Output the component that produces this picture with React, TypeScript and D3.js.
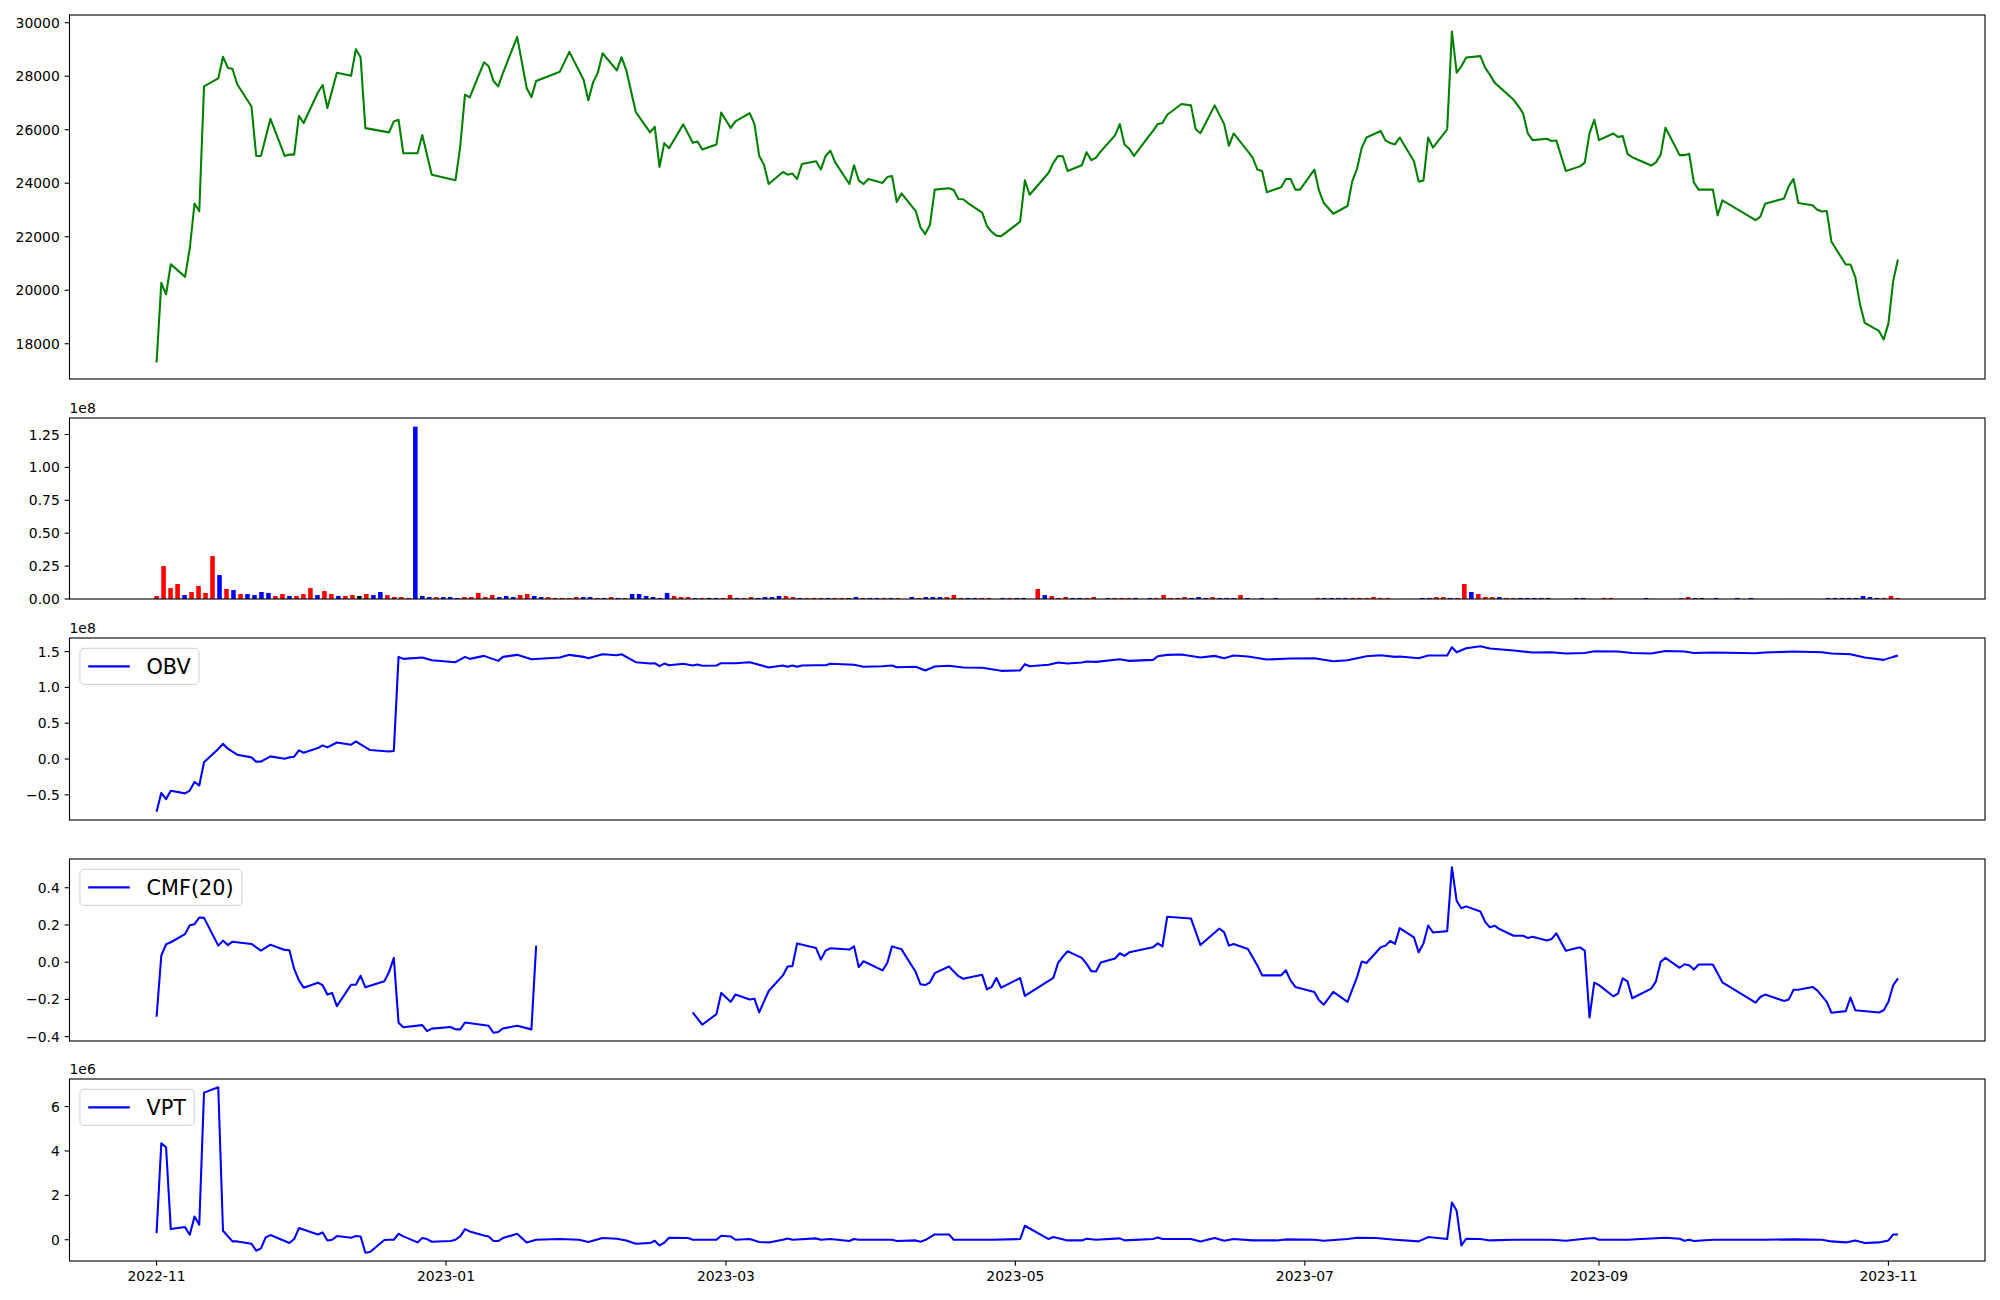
import React from "react";
import * as d3 from "d3";

// ---------------- data ----------------
const START = Date.UTC(2022, 10, 1); // 2022-11-01, day 0
const DAY = 86400000;

// [day offset from 2022-11-01, close price]
const price: [number, number][] = [
  [0,17300],[1,20275],[2,19850],[3,20970],[6,20500],[7,21560],[8,23240],[9,22950],[10,27620],[13,27920],
  [14,28730],[15,28320],[16,28270],[17,27700],[20,26870],[21,25020],[22,25020],[24,26410],[27,25020],[28,25070],
  [29,25070],[30,26520],[31,26250],[34,27390],[35,27670],[36,26810],[38,28130],[41,28020],[42,29010],[43,28710],
  [44,26060],[49,25900],[50,26310],[51,26370],[52,25120],[55,25120],[56,25800],[58,24320],[63,24110],[64,25380],
  [65,27310],[66,27210],[69,28520],[70,28370],[71,27820],[72,27620],[73,28120],[76,29470],[78,27560],[79,27220],
  [80,27820],[85,28170],[87,28910],[90,27870],[91,27100],[92,27770],[93,28130],[94,28860],[97,28220],[98,28710],
  [99,28220],[101,26660],[104,25900],[105,26110],[106,24610],[107,25500],[108,25310],[111,26200],[113,25510],[114,25560],
  [115,25260],[118,25450],[119,26640],[121,26065],[122,26310],[125,26620],[126,26220],[127,25020],[128,24700],[129,23970],
  [132,24420],[133,24320],[134,24360],[135,24160],[136,24720],[139,24820],[140,24510],[141,25020],[142,25220],[143,24790],
  [146,23970],[147,24670],[148,24100],[149,23970],[150,24160],[153,24010],[154,24230],[155,24270],[156,23300],[157,23620],
  [160,22960],[161,22350],[162,22100],[163,22450],[164,23760],[167,23810],[168,23750],[169,23410],[170,23400],[171,23260],
  [174,22900],[175,22400],[176,22180],[177,22040],[178,22020],[182,22560],[183,24110],[184,23570],[188,24390],[189,24760],
  [190,25020],[191,25010],[192,24460],[195,24670],[196,25160],[197,24860],[198,24960],[199,25190],[202,25790],[203,26210],
  [204,25450],[205,25290],[206,25020],[209,25730],[210,25960],[211,26210],[212,26250],[213,26560],[216,26960],[218,26910],
  [219,26020],[220,25870],[223,26910],[225,26210],[226,25400],[227,25860],[230,25190],[231,24960],[232,24510],[233,24460],
  [234,23660],[237,23850],[238,24160],[239,24160],[240,23760],[241,23760],[244,24510],[245,23720],[246,23260],[248,22860],
  [251,23150],[252,24080],[253,24540],[254,25330],[255,25710],[258,25950],[259,25600],[260,25500],[261,25450],[262,25710],
  [265,24820],[266,24060],[267,24100],[268,25710],[269,25330],[272,26010],[273,29670],[274,28130],[275,28370],[276,28700],
  [279,28750],[280,28320],[281,28060],[282,27760],[286,27120],[287,26880],[288,26610],[289,25860],[290,25610],[293,25660],
  [294,25580],[295,25600],[297,24460],[300,24630],[301,24770],[302,25870],[303,26370],[304,25610],[307,25860],[308,25730],
  [309,25760],[310,25100],[311,24970],[315,24660],[316,24780],[317,25070],[318,26070],[321,25050],[322,25050],[323,25100],
  [324,24020],[325,23760],[328,23760],[329,22800],[330,23360],[337,22620],[338,22750],[339,23230],[343,23430],[344,23890],
  [345,24160],[346,23260],[349,23180],[350,23010],[351,22940],[352,22960],[353,21810],[356,20960],[357,20960],[358,20500],
  [359,19480],[360,18780],[363,18480],[364,18160],[365,18760],[366,20350],[367,21150],
];

// volume per trading session (units of 1e8), drawn by session index
const volume: number[] = [
  0.023,0.25,0.083,0.114,0.03,0.053,0.099,0.046,0.326,0.182,
  0.076,0.068,0.038,0.038,0.03,0.053,0.046,0.023,0.038,0.023,
  0.023,0.038,0.083,0.03,0.061,0.038,0.023,0.023,0.03,0.023,
  0.038,0.03,0.053,0.03,0.015,0.015,0.008,1.31,0.023,0.015,
  0.015,0.015,0.015,0.008,0.015,0.015,0.046,0.015,0.03,0.015,
  0.023,0.015,0.03,0.038,0.023,0.015,0.015,0.008,0.008,0.008,
  0.015,0.015,0.015,0.008,0.008,0.015,0.008,0.008,0.038,0.038,
  0.023,0.015,0.008,0.046,0.023,0.015,0.015,0.008,0.008,0.008,
  0.008,0.008,0.03,0.008,0.008,0.015,0.008,0.015,0.015,0.023,
  0.023,0.015,0.008,0.008,0.008,0.008,0.008,0.008,0.008,0.008,
  0.015,0.008,0.008,0.008,0.008,0.008,0.008,0.001,0.015,0.008,
  0.015,0.015,0.015,0.015,0.03,0.008,0.008,0.008,0.008,0.008,
  0.001,0.008,0.008,0.008,0.008,0.001,0.076,0.03,0.023,0.008,
  0.015,0.008,0.008,0.008,0.015,0.001,0.008,0.008,0.008,0.008,
  0.008,0.001,0.008,0.008,0.03,0.008,0.008,0.015,0.008,0.015,
  0.008,0.015,0.008,0.008,0.008,0.03,0.008,0.001,0.008,0.001,
  0.008,0.001,0.001,0.001,0.001,0.001,0.008,0.008,0.008,0.008,
  0.008,0.008,0.008,0.008,0.015,0.008,0.008,0.001,0.001,0.001,
  0.001,0.008,0.008,0.015,0.015,0.008,0.008,0.114,0.053,0.038,
  0.015,0.015,0.015,0.008,0.008,0.008,0.008,0.008,0.008,0.008,
  0.001,0.001,0.001,0.008,0.008,0.001,0.001,0.008,0.008,0.001,
  0.001,0.001,0.001,0.008,0.001,0.001,0.001,0.001,0.008,0.015,
  0.008,0.008,0.001,0.008,0.001,0.001,0.008,0.001,0.008,0.001,
  0.001,0.001,0.001,0.001,0.001,0.001,0.001,0.001,0.001,0.008,
  0.008,0.008,0.008,0.008,0.023,0.015,0.008,0.008,0.023,0.008,
];
// r = red, b = blue, k = black
const volumeColors: string =
  "rrrrbrrrrb" + "rbrbbbbrrb" + "rrrbrrbrrk" + "rbbrrrrbbb" + "rbbbrrrrrb" +
  "bbrrbbrrrr" + "rbbrbrbrbb" + "bbbbrrrbrk" + "brrbrrbbbb" + "rrbrrrbrrk" +
  "brbbrbrrbr" + "bbbrrrbbrr" + "rbrbbrrbrr" + "rbbrrrbrrr" + "brbrrrrrbb" +
  "brbbbrbrbr" + "brrrrrrbbb" + "brrrrrrrrr" + "rbbrrbrrbr" + "rrbrrbbbbk" +
  "rrrbbrrrrr" + "rrrbrrrrrr" + "bkrbrrbrbr" + "rrrrrrrrrb" + "bbbbbbbrrr";

// OBV (units of 1e8)
const obv: [number, number][] = [
  [0,-0.736],[1,-0.472],[2,-0.56],[3,-0.444],[6,-0.48],[7,-0.44],[8,-0.32],[9,-0.37],[10,-0.046],[13,0.139],
  [14,0.213],[15,0.144],[17,0.06],[20,0.023],[21,-0.037],[22,-0.037],[24,0.037],[27,0.005],[28,0.023],[29,0.032],
  [30,0.12],[31,0.088],[34,0.153],[35,0.19],[36,0.162],[38,0.231],[41,0.199],[42,0.245],[43,0.204],[45,0.125],
  [49,0.106],[50,0.111],[51,1.426],[52,1.398],[56,1.417],[58,1.38],[63,1.352],[65,1.426],[66,1.398],[69,1.44],
  [72,1.37],[73,1.426],[76,1.454],[79,1.394],[85,1.417],[87,1.454],[90,1.426],[91,1.407],[94,1.463],[97,1.449],
  [98,1.463],[101,1.352],[104,1.333],[105,1.338],[106,1.296],[107,1.333],[108,1.31],[111,1.329],[113,1.306],[114,1.319],
  [115,1.301],[118,1.306],[119,1.338],[122,1.338],[125,1.352],[126,1.333],[129,1.278],[132,1.306],[133,1.287],[134,1.306],
  [135,1.287],[136,1.306],[139,1.31],[141,1.31],[142,1.329],[147,1.315],[149,1.287],[153,1.296],[155,1.306],[156,1.282],
  [160,1.287],[162,1.236],[164,1.292],[167,1.301],[170,1.278],[174,1.273],[178,1.231],[182,1.236],[183,1.324],[184,1.296],
  [188,1.315],[190,1.347],[192,1.333],[195,1.347],[196,1.361],[198,1.356],[203,1.394],[205,1.37],[210,1.384],[211,1.435],
  [213,1.454],[216,1.458],[220,1.417],[223,1.44],[225,1.407],[227,1.444],[230,1.43],[234,1.389],[239,1.403],[244,1.407],
  [248,1.366],[251,1.38],[255,1.435],[258,1.449],[261,1.426],[262,1.43],[266,1.407],[268,1.444],[272,1.444],[273,1.56],
  [274,1.49],[276,1.546],[279,1.574],[281,1.542],[286,1.514],[290,1.486],[294,1.49],[297,1.472],[301,1.481],[303,1.505],
  [308,1.5],[311,1.481],[315,1.472],[318,1.509],[322,1.5],[324,1.481],[328,1.486],[337,1.477],[339,1.486],[345,1.5],
  [351,1.49],[353,1.472],[357,1.463],[360,1.417],[364,1.384],[366,1.426],[367,1.444],
];

// CMF(20); null = no value (gap)
const cmf: [number, number | null][] = [
  [0,-0.293],[1,0.036],[2,0.096],[3,0.107],[6,0.151],[7,0.199],[8,0.204],[9,0.24],[10,0.238],[13,0.089],
  [14,0.116],[15,0.092],[16,0.11],[20,0.098],[22,0.062],[24,0.094],[27,0.066],[28,0.064],[29,-0.036],[30,-0.098],
  [31,-0.137],[34,-0.11],[35,-0.124],[36,-0.174],[37,-0.165],[38,-0.236],[41,-0.121],[42,-0.121],[43,-0.073],[44,-0.135],
  [48,-0.103],[49,-0.053],[50,0.023],[51,-0.325],[52,-0.35],[56,-0.338],[57,-0.37],[58,-0.357],[62,-0.348],[63,-0.361],
  [64,-0.361],[65,-0.324],[70,-0.342],[71,-0.379],[72,-0.375],[73,-0.356],[76,-0.342],[79,-0.361],[80,0.089],[81,null],
  [113,-0.27],[115,-0.336],[118,-0.279],[119,-0.165],[121,-0.213],[122,-0.174],[125,-0.2],[126,-0.196],[127,-0.27],[129,-0.155],
  [132,-0.071],[133,-0.023],[134,-0.021],[135,0.101],[139,0.076],[140,0.014],[141,0.062],[142,0.075],[146,0.068],[147,0.085],
  [148,-0.027],[149,0.005],[153,-0.044],[154,-0.004],[155,0.085],[157,0.069],[160,-0.053],[161,-0.119],[162,-0.123],[163,-0.108],
  [164,-0.059],[167,-0.023],[169,-0.075],[170,-0.089],[174,-0.068],[175,-0.146],[176,-0.133],[177,-0.085],[178,-0.137],[182,-0.085],
  [183,-0.181],[189,-0.084],[190,-0.004],[191,0.03],[192,0.059],[195,0.023],[196,-0.009],[197,-0.048],[198,-0.05],[199,-0.002],
  [202,0.02],[203,0.048],[204,0.034],[205,0.053],[210,0.08],[211,0.101],[212,0.085],[213,0.244],[218,0.235],[220,0.092],
  [224,0.181],[225,0.16],[226,0.089],[227,0.098],[230,0.071],[232,-0.018],[233,-0.071],[237,-0.071],[238,-0.043],[239,-0.098],
  [240,-0.133],[244,-0.16],[245,-0.204],[246,-0.228],[248,-0.16],[251,-0.213],[253,-0.08],[254,0.004],[255,-0.004],[258,0.08],
  [259,0.089],[260,0.114],[261,0.098],[262,0.183],[265,0.133],[266,0.053],[267,0.101],[268,0.197],[269,0.16],[272,0.167],
  [273,0.51],[274,0.329],[275,0.29],[276,0.3],[279,0.272],[280,0.217],[281,0.187],[282,0.196],[283,0.178],[286,0.142],
  [288,0.142],[289,0.13],[290,0.137],[293,0.116],[294,0.124],[295,0.155],[297,0.062],[300,0.08],[301,0.062],[302,-0.297],
  [303,-0.11],[304,-0.123],[307,-0.183],[308,-0.169],[309,-0.087],[310,-0.103],[311,-0.194],[315,-0.142],[316,-0.103],[317,0.002],
  [318,0.023],[321,-0.03],[322,-0.011],[323,-0.016],[324,-0.039],[325,-0.012],[328,-0.012],[330,-0.108],[337,-0.217],[338,-0.187],
  [339,-0.174],[343,-0.208],[344,-0.2],[345,-0.148],[346,-0.148],[349,-0.133],[350,-0.151],[352,-0.213],[353,-0.272],[356,-0.263],
  [357,-0.19],[358,-0.258],[363,-0.27],[364,-0.258],[365,-0.213],[366,-0.124],[367,-0.087],
];

// VPT (units of 1e6)
const vpt: [number, number][] = [
  [0,0.3],[1,4.35],[2,4.17],[3,0.48],[6,0.57],[7,0.225],[8,1.05],[9,0.675],[10,6.63],[13,6.87],
  [14,0.405],[16,-0.075],[17,-0.075],[20,-0.18],[21,-0.495],[22,-0.39],[23,0.105],[24,0.21],[28,-0.15],[29,0.03],
  [30,0.525],[34,0.24],[35,0.33],[36,-0.03],[37,0],[38,0.165],[41,0.09],[42,0.165],[43,0.15],[44,-0.585],
  [45,-0.555],[48,-0.015],[49,0],[50,0],[51,0.27],[52,0.15],[55,-0.12],[56,0.075],[57,0.03],[58,-0.09],
  [62,-0.06],[63,0],[64,0.15],[65,0.48],[66,0.375],[69,0.195],[70,0.15],[71,-0.06],[72,-0.06],[73,0.075],
  [76,0.27],[78,-0.12],[80,0],[85,0.03],[89,0],[91,-0.105],[94,0.075],[97,0.045],[99,-0.03],[101,-0.18],
  [104,-0.15],[105,-0.045],[106,-0.255],[107,-0.135],[108,0.09],[112,0.075],[113,0],[118,0],[119,0.18],[121,0.15],
  [122,0],[125,0.03],[127,-0.105],[129,-0.12],[132,0],[133,0.06],[134,0],[139,0.06],[140,0],[142,0.03],
  [146,-0.06],[147,0.03],[148,0],[155,0],[156,-0.06],[160,-0.03],[161,-0.09],[162,-0.015],[164,0.24],[167,0.24],
  [168,0],[176,0],[182,0.03],[183,0.63],[188,0.03],[189,0.12],[192,-0.03],[195,-0.03],[196,0.045],[198,0],
  [203,0.06],[204,-0.03],[210,0.03],[211,0.105],[212,0.03],[218,0.03],[220,-0.075],[223,0.075],[225,-0.045],[227,0.03],
  [231,-0.03],[236,-0.03],[238,0.015],[244,0],[246,-0.045],[251,0.03],[253,0.09],[257,0.075],[261,0],[266,-0.075],
  [268,0.12],[272,0.03],[273,1.68],[274,1.305],[275,-0.255],[276,0.045],[279,0.03],[281,-0.03],[286,0],[294,0],
  [297,-0.045],[301,0.045],[303,0.075],[304,0],[310,0],[318,0.09],[321,0.045],[322,-0.045],[323,0],[324,-0.06],
  [328,0],[339,0],[345,0.015],[351,0],[353,-0.075],[356,-0.12],[358,-0.03],[360,-0.15],[363,-0.12],[365,-0.03],
  [366,0.24],[367,0.24],
];

const priceTicks = [18000, 20000, 22000, 24000, 26000, 28000, 30000];
const volumeTicks = [0, 0.25, 0.5, 0.75, 1.0, 1.25];
const obvTicks = [-0.5, 0, 0.5, 1.0, 1.5];
const cmfTicks = [-0.4, -0.2, 0, 0.2, 0.4];
const vptTicks = [0, 2, 4, 6];
const dateTickLabels = ["2022-11", "2023-01", "2023-03", "2023-05", "2023-07", "2023-09", "2023-11"];

// ---------------- layout ----------------
const W = 2000, H = 1300;
const L = 69.5, R = 1985;
const FONT = "DejaVu Sans, sans-serif";
const TICK_FS = 13.9;
const LEG_FS = 20.8;
const TICK_LEN = 4.86;
const LW = 2.08;

const P = {
  price: [15, 379],
  vol: [418, 599],
  obv: [638, 820],
  cmf: [859, 1041],
  vpt: [1079, 1261],
};

const colorMap: Record<string, string> = { r: "#ff0000", b: "#0000ff", k: "#000000" };

function padExtent(vals: number[]): [number, number] {
  const [lo, hi] = d3.extent(vals) as [number, number];
  const m = (hi - lo) * 0.05;
  return [lo - m, hi + m];
}

const toDate = (d: number) => new Date(START + d * DAY);

const dayExtent = d3.extent(price.map((p) => p[0])) as [number, number];
const dayPad = (dayExtent[1] - dayExtent[0]) * 0.05;
const xTime = d3
  .scaleUtc()
  .domain([toDate(dayExtent[0] - dayPad), toDate(dayExtent[1] + dayPad)])
  .range([L, R]);

const N = volume.length;
const xIdx = d3
  .scaleLinear()
  .domain([-(N - 1) * 0.05, (N - 1) * 1.05])
  .range([L, R]);

let _ctx: CanvasRenderingContext2D | null = null;
function measure(text: string, size: number): number {
  if (!_ctx) {
    const c = document.createElement("canvas");
    _ctx = c.getContext("2d");
  }
  if (!_ctx) return text.length * size * 0.6;
  _ctx.font = `${size}px "DejaVu Sans"`;
  return _ctx.measureText(text).width;
}

function YAxis({ y, ticks, fmt }: { y: d3.ScaleLinear<number, number>; ticks: number[]; fmt: (v: number) => string }) {
  return (
    <g>
      {ticks.map((t, i) => (
        <g key={i}>
          <line x1={L - TICK_LEN} x2={L} y1={y(t)} y2={y(t)} stroke="#000" strokeWidth={1.1} />
          <text
            x={L - TICK_LEN - 4.86}
            y={y(t)}
            dy="0.36em"
            textAnchor="end"
            fontFamily={FONT}
            fontSize={TICK_FS}
            fill="#000"
          >
            {fmt(t)}
          </text>
        </g>
      ))}
    </g>
  );
}

function Frame({ top, bottom }: { top: number; bottom: number }) {
  return <rect x={L} y={top} width={R - L} height={bottom - top} fill="none" stroke="#000" strokeWidth={1.1} />;
}

function Legend({ top, label }: { top: number; label: string }) {
  const x = L + LEG_FS * 0.5;
  const y = top + LEG_FS * 0.5;
  const pad = LEG_FS * 0.4;
  const handle = LEG_FS * 2;
  const gap = LEG_FS * 0.8;
  const textW = measure(label, LEG_FS);
  const w = pad + handle + gap + textW + pad;
  const h = 36;
  const cy = y + h / 2;
  return (
    <g>
      <rect x={x} y={y} width={w} height={h} rx={4} ry={4} fill="#ffffff" fillOpacity={0.8} stroke="#cccccc" strokeOpacity={0.8} strokeWidth={1.1} />
      <line x1={x + pad} x2={x + pad + handle} y1={cy} y2={cy} stroke="#0000ff" strokeWidth={LW} />
      <text x={x + pad + handle + gap} y={cy} dy="0.36em" fontFamily={FONT} fontSize={LEG_FS} fill="#000">
        {label}
      </text>
    </g>
  );
}

export default function App() {
  const yPrice = d3.scaleLinear().domain(padExtent(price.map((d) => d[1]))).range([P.price[1], P.price[0]]);
  const yVol = d3.scaleLinear().domain([0, (d3.max(volume) as number) * 1.05]).range([P.vol[1], P.vol[0]]);
  const yObv = d3.scaleLinear().domain(padExtent(obv.map((d) => d[1]))).range([P.obv[1], P.obv[0]]);
  const cmfVals = cmf.filter((d) => d[1] !== null).map((d) => d[1] as number);
  const yCmf = d3.scaleLinear().domain(padExtent(cmfVals)).range([P.cmf[1], P.cmf[0]]);
  const yVpt = d3.scaleLinear().domain(padExtent(vpt.map((d) => d[1]))).range([P.vpt[1], P.vpt[0]]);

  const mkLine = (y: d3.ScaleLinear<number, number>) =>
    d3
      .line<[number, number | null]>()
      .defined((d) => d[1] !== null)
      .x((d) => xTime(toDate(d[0])))
      .y((d) => y(d[1] as number));

  const barW = xIdx(0.65) - xIdx(0);

  const dateTicks = dateTickLabels.map((s) => {
    const [yy, mm] = s.split("-").map(Number);
    return { label: s, x: xTime(new Date(Date.UTC(yy, mm - 1, 1))) };
  });

  const f2 = d3.format(".2f");
  const f1 = d3.format(".1f");
  const f0 = d3.format("d");

  return (
    <div style={{ position: "absolute", left: 0, top: 0, width: W, height: H, background: "#fff" }}>
      <svg width={W} height={H} viewBox={`0 0 ${W} ${H}`} style={{ display: "block" }}>
        <rect x={0} y={0} width={W} height={H} fill="#fff" />
        <defs>
          {Object.entries(P).map(([k, [t, b]]) => (
            <clipPath id={`clip-${k}`} key={k}>
              <rect x={L} y={t} width={R - L} height={b - t} />
            </clipPath>
          ))}
        </defs>

        {/* Price */}
        <g clipPath="url(#clip-price)">
          <path d={mkLine(yPrice)(price) || ""} fill="none" stroke="#008000" strokeWidth={LW} strokeLinejoin="round" />
        </g>
        <YAxis y={yPrice} ticks={priceTicks} fmt={(v) => String(v)} />
        <Frame top={P.price[0]} bottom={P.price[1]} />

        {/* Volume */}
        <g clipPath="url(#clip-vol)">
          {volume.map((v, i) => (
            <rect
              key={i}
              x={xIdx(i) - barW / 2}
              y={yVol(v)}
              width={barW}
              height={yVol(0) - yVol(v)}
              fill={colorMap[volumeColors[i]] || "#ff0000"}
            />
          ))}
        </g>
        <YAxis y={yVol} ticks={volumeTicks} fmt={f2} />
        <text x={L} y={P.vol[0] - 5} fontFamily={FONT} fontSize={TICK_FS} fill="#000">1e8</text>
        <Frame top={P.vol[0]} bottom={P.vol[1]} />

        {/* OBV */}
        <g clipPath="url(#clip-obv)">
          <path d={mkLine(yObv)(obv) || ""} fill="none" stroke="#0000ff" strokeWidth={LW} strokeLinejoin="round" />
        </g>
        <YAxis y={yObv} ticks={obvTicks} fmt={f1} />
        <text x={L} y={P.obv[0] - 5} fontFamily={FONT} fontSize={TICK_FS} fill="#000">1e8</text>
        <Frame top={P.obv[0]} bottom={P.obv[1]} />
        <Legend top={P.obv[0]} label="OBV" />

        {/* CMF */}
        <g clipPath="url(#clip-cmf)">
          <path d={mkLine(yCmf)(cmf) || ""} fill="none" stroke="#0000ff" strokeWidth={LW} strokeLinejoin="round" />
        </g>
        <YAxis y={yCmf} ticks={cmfTicks} fmt={f1} />
        <Frame top={P.cmf[0]} bottom={P.cmf[1]} />
        <Legend top={P.cmf[0]} label="CMF(20)" />

        {/* VPT */}
        <g clipPath="url(#clip-vpt)">
          <path d={mkLine(yVpt)(vpt) || ""} fill="none" stroke="#0000ff" strokeWidth={LW} strokeLinejoin="round" />
        </g>
        <YAxis y={yVpt} ticks={vptTicks} fmt={f0} />
        <text x={L} y={P.vpt[0] - 5} fontFamily={FONT} fontSize={TICK_FS} fill="#000">1e6</text>
        <Frame top={P.vpt[0]} bottom={P.vpt[1]} />
        <Legend top={P.vpt[0]} label="VPT" />

        {/* date axis on bottom panel */}
        {dateTicks.map((t, i) => (
          <g key={i}>
            <line x1={t.x} x2={t.x} y1={P.vpt[1]} y2={P.vpt[1] + TICK_LEN} stroke="#000" strokeWidth={1.1} />
            <text
              x={t.x}
              y={P.vpt[1] + TICK_LEN + 4.86 + 10.6}
              textAnchor="middle"
              fontFamily={FONT}
              fontSize={TICK_FS}
              fill="#000"
            >
              {t.label}
            </text>
          </g>
        ))}
      </svg>
    </div>
  );
}
